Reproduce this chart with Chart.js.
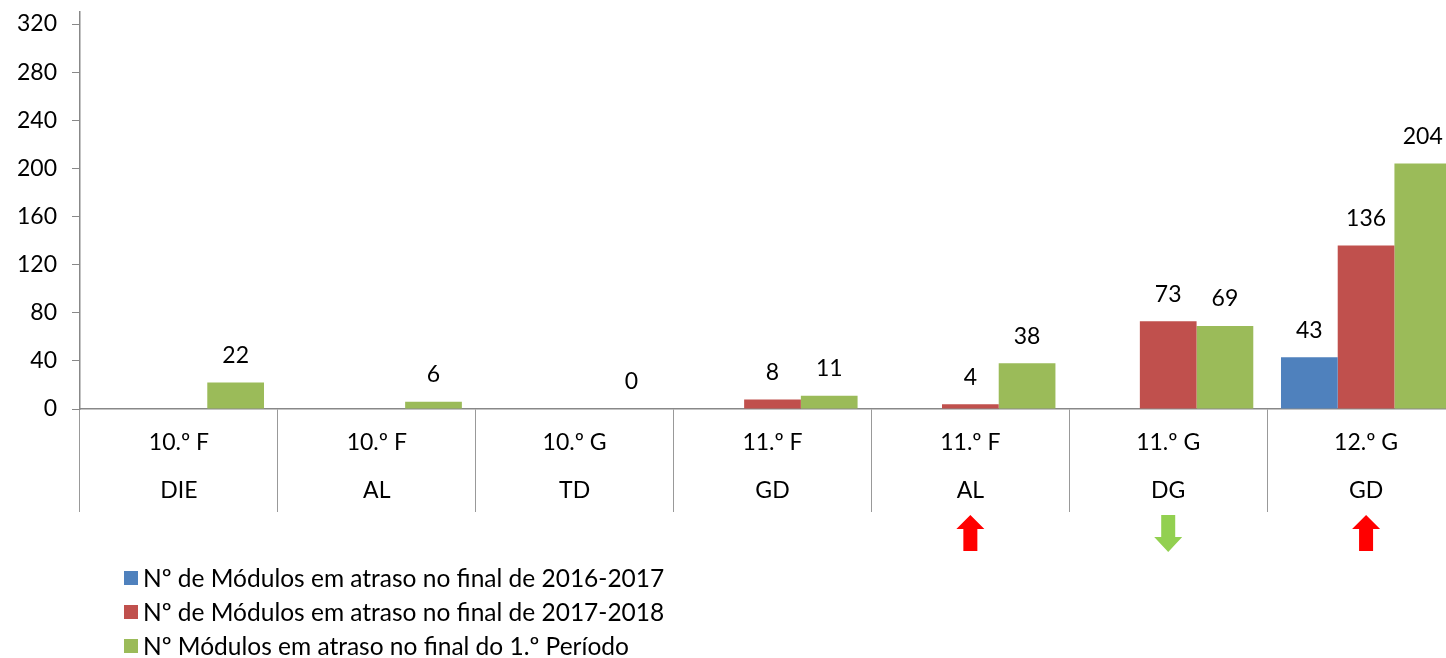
<!DOCTYPE html>
<html lang="pt">
<head>
    <meta charset="UTF-8">
    <meta name="viewport" content="width=device-width, initial-scale=1.0">
    <script src="https://cdn.jsdelivr.net/npm/chart.js@4/dist/chart.umd.min.js"></script>
    <title>Módulos em atraso</title>
    <style>
        body { margin: 0; overflow: hidden; background: #fff; font-family: Lato, sans-serif; }
        #contentor { position: relative; width: 1470px; height: 658px; }
        #legenda { position: absolute; left: 124px; top: 561px; font-size: 24.5px; line-height: 34px; color: #000; }
        .item { display: flex; align-items: center; white-space: nowrap; }
        .quadrado { width: 14px; height: 14px; margin-right: 5px; }
    </style>
</head>
<body>
    <div id="contentor">
        <canvas id="grafico1" width="1470" height="658"></canvas>
        <div id="legenda"></div>
    </div>

<script>
    // Dados
    var turmas = ['10.º F', '10.º F', '10.º G', '11.º F', '11.º F', '11.º G', '12.º G'];
    var disciplinas = ['DIE', 'AL', 'TD', 'GD', 'AL', 'DG', 'GD'];
    var atraso1617 = [null, null, null, null, null, null, 43];
    var atraso1718 = [null, null, null, 8, 4, 73, 136];
    var atrasoPeriodo1 = [22, 6, 0, 11, 38, 69, 204];
    var setas = [null, null, null, null, 'cima', 'baixo', 'cima'];
    var ticksY = [0, 40, 80, 120, 160, 200, 240, 280, 320];
    var nomesSeries = [
        'Nº de Módulos em atraso no final de 2016-2017',
        'Nº de Módulos em atraso no final de 2017-2018',
        'Nº Módulos em atraso no final do 1.º Período'
    ];
    var coresSeries = ['#4F81BD', '#C0504D', '#9BBB59'];

    var fonte = { family: 'Lato', size: 23 };

    // valores por cima das barras
    var etiquetasValores = {
        id: 'etiquetasValores',
        afterDatasetsDraw: function(chart) {
            var ctx = chart.ctx;
            ctx.save();
            ctx.font = '23px Lato';
            ctx.fillStyle = '#000';
            ctx.textAlign = 'center';
            ctx.textBaseline = 'middle';
            chart.data.datasets.forEach(function(ds, i) {
                var meta = chart.getDatasetMeta(i);
                meta.data.forEach(function(barra, j) {
                    if (ds.data[j] === null || isNaN(barra.y)) return;
                    ctx.fillText(ds.data[j], barra.x, barra.y - 27);
                });
            });
            ctx.restore();
        }
    };

    // rótulos do eixo x em dois níveis (turma / disciplina) e setas por baixo
    var eixoX = {
        id: 'eixoX',
        afterDraw: function(chart) {
            var ctx = chart.ctx;
            var escalaX = chart.scales.x;
            var base = chart.chartArea.bottom;
            ctx.save();
            ctx.font = '23px Lato';
            ctx.fillStyle = '#000';
            ctx.textAlign = 'center';
            ctx.textBaseline = 'middle';
            turmas.forEach(function(t, i) {
                var x = escalaX.getPixelForValue(i);
                ctx.fillText(t, x, base + 34);
                ctx.fillText(disciplinas[i], x, base + 82);
            });
            setas.forEach(function(s, i) {
                if (!s) return;
                var x = escalaX.getPixelForValue(i);
                var topo = base + 106;
                ctx.beginPath();
                if (s === 'cima') {
                    ctx.fillStyle = '#FF0000';
                    ctx.moveTo(x, topo);
                    ctx.lineTo(x + 14, topo + 14);
                    ctx.lineTo(x + 7, topo + 14);
                    ctx.lineTo(x + 7, topo + 36);
                    ctx.lineTo(x - 7, topo + 36);
                    ctx.lineTo(x - 7, topo + 14);
                    ctx.lineTo(x - 14, topo + 14);
                } else {
                    ctx.fillStyle = '#92D050';
                    ctx.moveTo(x - 7, topo);
                    ctx.lineTo(x + 7, topo);
                    ctx.lineTo(x + 7, topo + 22);
                    ctx.lineTo(x + 14, topo + 22);
                    ctx.lineTo(x, topo + 37);
                    ctx.lineTo(x - 14, topo + 22);
                    ctx.lineTo(x - 7, topo + 22);
                }
                ctx.closePath();
                ctx.fill();
            });
            ctx.restore();
        }
    };

    var data = {
        labels: turmas.map(function(t, i) { return t + ' ' + disciplinas[i]; }),
        datasets: [
            { label: nomesSeries[0], data: atraso1617, backgroundColor: coresSeries[0] },
            { label: nomesSeries[1], data: atraso1718, backgroundColor: coresSeries[1] },
            { label: nomesSeries[2], data: atrasoPeriodo1, backgroundColor: coresSeries[2] }
        ]
    };

    var options = {
        responsive: false,
        animation: false,
        categoryPercentage: 0.86,
        barPercentage: 1.0,
        layout: { padding: { top: 12, right: 5, left: 0, bottom: 146 } },
        plugins: {
            legend: { display: false },
            tooltip: { enabled: false }
        },
        scales: {
            x: {
                grid: {
                    offset: true,
                    drawOnChartArea: false,
                    tickLength: 103,
                    color: '#999'
                },
                border: { color: '#888', width: 1.5 },
                ticks: { display: false },
                afterFit: function(axis) {
                    axis.height = 103;
                    axis.paddingLeft = 0;
                    axis.paddingRight = 0;
                }
            },
            y: {
                min: 0,
                max: 330,
                afterBuildTicks: function(axis) {
                    axis.ticks = ticksY.map(function(v) { return { value: v }; });
                },
                afterFit: function(axis) {
                    axis.width = 80;
                    axis.paddingTop = 0;
                    axis.paddingBottom = 0;
                },
                grid: {
                    drawOnChartArea: false,
                    tickLength: 8,
                    color: '#888'
                },
                border: { color: '#888', width: 1.5 },
                ticks: {
                    font: fonte,
                    color: '#000',
                    padding: 15
                }
            }
        }
    };

    var config = {
        type: 'bar',
        data: data,
        options: options,
        plugins: [etiquetasValores, eixoX]
    };

    var grafico = new Chart('grafico1', config);

    // legenda em HTML, empilhada na vertical
    var legenda = document.getElementById('legenda');
    nomesSeries.forEach(function(nome, i) {
        var item = document.createElement('div');
        item.className = 'item';
        var q = document.createElement('span');
        q.className = 'quadrado';
        q.style.background = coresSeries[i];
        var t = document.createElement('span');
        t.textContent = nome;
        item.appendChild(q);
        item.appendChild(t);
        legenda.appendChild(item);
    });
</script>
</body>
</html>
